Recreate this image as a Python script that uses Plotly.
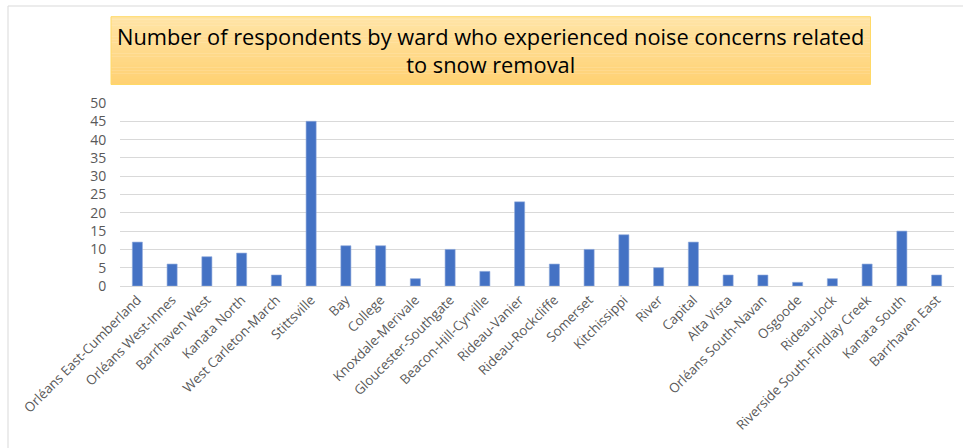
import plotly.graph_objects as go

wards = ["Orléans East-Cumberland", "Orléans West-Innes", "Barrhaven West", "Kanata North",
         "West Carleton-March", "Stittsville", "Bay", "College", "Knoxdale-Merivale",
         "Gloucester-Southgate", "Beacon-Hill-Cyrville", "Rideau-Vanier", "Rideau-Rockcliffe",
         "Somerset", "Kitchissippi", "River", "Capital", "Alta Vista", "Orléans South-Navan",
         "Osgoode", "Rideau-Jock", "Riverside South-Findlay Creek", "Kanata South", "Barrhaven East"]
respondents = [12, 6, 8, 9, 3, 45, 11, 11, 2, 10, 4, 23, 6, 10, 14, 5, 12, 3, 3, 1, 2, 6, 15, 3]
y_ticks = [0, 5, 10, 15, 20, 25, 30, 35, 40, 45, 50]
title_text = "Number of respondents by ward who experienced noise concerns related<br>to snow removal"

W, H = 963, 448
L, R, T, B = 120, 954, 103, 286

def px(x):
    return (x - L) / (R - L)

def py(y):
    return (B - y) / (B - T)

fig = go.Figure(go.Bar(
    x=wards, y=respondents,
    marker=dict(color="#4472C4", line=dict(color="#8FAADC", width=0.6)),
))

shapes = []
# outer chart border (left + top only visible)
shapes.append(dict(type="rect", xref="paper", yref="paper",
                   x0=px(8), x1=px(1000), y0=py(470), y1=py(6),
                   line=dict(color="#D9D9D9", width=1), fillcolor="rgba(0,0,0,0)", layer="below"))

# title box with vertical gradient
bx0, bx1, by0, by1 = 111, 870.5, 16.7, 84.5
n = 24
c_top = (255, 228, 166)
c_bot = (255, 209, 115)
for i in range(n):
    t = i / (n - 1)
    c = tuple(int(round(c_top[k] + (c_bot[k] - c_top[k]) * t)) for k in range(3))
    ya = by0 + (by1 - by0) * i / n
    yb = by0 + (by1 - by0) * (i + 1) / n
    shapes.append(dict(type="rect", xref="paper", yref="paper",
                       x0=px(bx0), x1=px(bx1), y0=py(yb + 0.3), y1=py(ya),
                       line=dict(width=0), fillcolor="rgb(%d,%d,%d)" % c, layer="above"))
shapes.append(dict(type="rect", xref="paper", yref="paper",
                   x0=px(bx0), x1=px(bx1), y0=py(by1), y1=py(by0),
                   line=dict(color="#FFD966", width=1), fillcolor="rgba(0,0,0,0)", layer="above"))

fig.update_layout(
    width=W, height=H,
    margin=dict(l=L, r=W - R, t=T, b=H - B, pad=0),
    paper_bgcolor="white", plot_bgcolor="white",
    bargap=0.71,
    showlegend=False,
    shapes=shapes,
    font=dict(family="Open Sans, Liberation Sans, sans-serif", color="#595959"),
    annotations=[dict(text=title_text, xref="paper", yref="paper",
                      x=px((bx0 + bx1) / 2), y=py((by0 + by1) / 2),
                      xanchor="center", yanchor="middle", showarrow=False,
                      font=dict(size=21.8, color="black", family="Open Sans, Liberation Sans, sans-serif"),
                      align="center")],
    xaxis=dict(
        tickangle=-45, tickfont=dict(size=13.3, color="#595959"),
        showgrid=False, showline=True, linecolor="#D9D9D9", linewidth=1,
        ticks="", range=[-0.5, len(wards) - 0.5],
    ),
    yaxis=dict(
        range=[0, 50], tickvals=y_ticks, ticktext=[str(v) for v in y_ticks],
        tickfont=dict(size=14, color="#595959"),
        showgrid=True, gridcolor="#D9D9D9", gridwidth=1,
        zeroline=False, showline=False, ticks="outside", ticklen=10, tickcolor="white",
    ),
)

fig.write_html("out.html", config={"displayModeBar": False},
               post_script="document.body.style.margin='0';document.body.style.overflow='hidden';")
